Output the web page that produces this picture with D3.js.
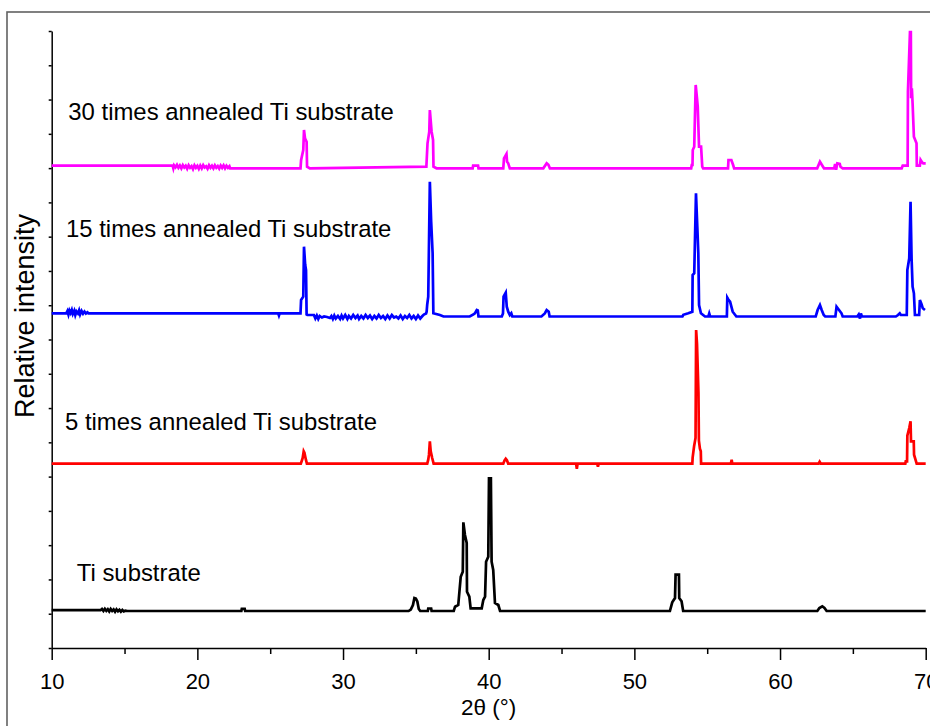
<!DOCTYPE html>
<html>
<head>
<meta charset="utf-8">
<script src="https://cdn.jsdelivr.net/npm/d3@7"></script>
<style>
	body { margin: 0; background: #fff; }
	svg { display: block; font-family: "Liberation Sans", Arial, sans-serif; }
	.series { fill: none; stroke-width: 2.7; stroke-linejoin: miter; }
	.axis path, .axis line { stroke: #000; stroke-width: 1.5; }
</style>
</head>
<body>
<div id="chart"></div>
<script>
// XRD patterns, [2theta, intensity above the trace's own baseline]
let tiSubstrate = [
	[10, 8], [13.35, 8], [13.45, 20], [13.55, 0], [13.65, 22], [13.75, 2], [13.85, 18], [13.95, -5],
	[14.05, 20], [14.15, 0], [14.25, 15], [14.35, -8], [14.45, 16], [14.55, -3], [14.65, 12], [14.75, -6],
	[14.85, 10], [14.95, -4], [15.05, 3], [15.2, 0], [23.02, 0], [23.05, 22], [23.25, 22], [23.28, 0],
	[34.5, 0], [34.65, 15], [34.8, 60], [34.9, 130], [35.0, 125], [35.1, 95], [35.2, 20], [35.3, 0],
	[35.82, 0], [35.85, 25], [36.05, 25], [36.08, 0], [37.6, 0], [37.69, 43], [37.91, 60], [38.08, 343],
	[38.22, 393], [38.26, 887], [38.37, 760], [38.49, 680], [38.51, 193], [38.67, 143], [38.76, 27],
	[39.52, 27], [39.63, 110], [39.75, 143], [39.82, 493], [39.97, 543], [40.02, 1327], [40.15, 1327],
	[40.2, 493], [40.31, 410], [40.43, 80], [40.66, 60], [40.78, 0], [52.44, 0], [52.6, 87], [52.79, 130],
	[52.83, 363], [53.06, 363], [53.08, 130], [53.24, 97], [53.35, 0], [62.56, 0], [62.7, 30], [62.9, 47],
	[63.05, 30], [63.2, 0], [70, 0]
];

let annealed5 = [
	[10, 0], [27.1, 0], [27.17, 30], [27.23, 57], [27.3, 124], [27.35, 110], [27.4, 74], [27.45, 40],
	[27.52, 0], [35.78, 0], [35.85, 40], [35.9, 90], [35.96, 224], [36.02, 124], [36.12, 57], [36.22, 0],
	[41.0, 0], [41.08, 30], [41.17, 50], [41.25, 35], [41.34, 0], [46.0, 0], [46.05, -50], [46.1, 0],
	[47.45, 0], [47.5, -30], [47.55, 0], [53.98, 0], [54.0, 60], [54.1, 174], [54.2, 257], [54.24, 1337],
	[54.3, 1200], [54.4, 707], [54.43, 230], [54.5, 150], [54.56, 124], [54.58, 0], [56.62, 0], [56.68, 40],
	[56.72, 0], [62.65, 0], [62.72, 20], [62.8, 0], [68.6, 0], [68.63, 24], [68.72, 24], [68.74, 280],
	[68.87, 357], [68.96, 424], [68.99, 224], [69.18, 224], [69.2, 90], [69.3, 40], [69.38, 0], [70, 0]
];

let annealed15 = [
	[10, 32], [11.0, 32], [11.08, 55], [11.15, 20], [11.22, 60], [11.3, 35], [11.38, 65], [11.45, 25],
	[11.55, 58], [11.62, 15], [11.7, 50], [11.8, 30], [11.88, 62], [11.95, 20], [12.05, 55], [12.15, 28],
	[12.25, 50], [12.35, 30], [12.45, 42], [12.52, 32], [25.55, 32], [25.6, 10], [25.65, 32], [27.08, 32],
	[27.12, 165], [27.27, 198], [27.32, 698], [27.4, 520], [27.46, 465], [27.5, 20], [27.55, 15],
	[28.0, 15], [28.1, -20], [28.2, 10], [28.3, -25], [28.4, 5], [28.55, -10], [28.7, 0], [28.9, -5],
	[29.1, -15], [29.2, 5], [29.3, -25], [29.4, 10], [29.5, -20], [29.65, 5], [29.8, -25], [29.9, 10],
	[30.0, -20], [30.15, 15], [30.3, -25], [30.4, 5], [30.55, -20], [30.7, 15], [30.85, -15], [31.0, 10],
	[31.1, -25], [31.25, 5], [31.4, -20], [31.55, 15], [31.7, -15], [31.85, 10], [32.0, -25], [32.15, 5],
	[32.3, -20], [32.45, 15], [32.6, -15], [32.75, 5], [32.9, -25], [33.05, 10], [33.2, -20], [33.35, 15],
	[33.5, -10], [33.65, 0], [33.8, -20], [33.95, 10], [34.1, -25], [34.25, 5], [34.4, -15], [34.55, 15],
	[34.7, -20], [34.85, 5], [35.0, -25], [35.15, 10], [35.3, -20], [35.45, 5], [35.55, 20], [35.7, 30],
	[35.74, 48], [35.78, 120], [35.85, 198], [35.96, 1348], [36.05, 950], [36.15, 632], [36.2, 32],
	[36.65, 15], [36.9, 0], [38.7, 0], [38.95, 20], [39.05, 32], [39.18, 65], [39.25, 60], [39.3, 0],
	[40.9, 0], [40.98, 30], [41.02, 198], [41.17, 238], [41.24, 98], [41.34, 48], [41.45, 15], [41.55, 32],
	[41.62, 0], [43.62, 0], [43.85, 30], [43.98, 65], [44.12, 48], [44.18, 0], [53.3, 0], [53.36, 17],
	[53.7, 33], [53.98, 48], [54.0, 415], [54.11, 432], [54.23, 1232], [54.32, 900], [54.39, 632],
	[54.44, 115], [54.57, 32], [54.85, 0], [55.08, 0], [55.14, 30], [55.2, 0], [56.35, 0], [56.38, 188],
	[56.45, 170], [56.57, 148], [56.75, 48], [57.0, 0], [62.45, 0], [62.58, 65], [62.74, 115], [62.86, 65],
	[63.0, 15], [63.1, 0], [63.8, 0], [63.88, 98], [64.05, 65], [64.22, 32], [64.3, 0], [65.3, 0],
	[65.4, 20], [65.49, -20], [65.55, 30], [65.62, 0], [67.95, 0], [68.1, 15], [68.22, 32], [68.3, 15],
	[68.7, 15], [68.74, 465], [68.87, 582], [68.96, 1148], [69.03, 582], [69.1, 298], [69.19, 232],
	[69.26, 15], [69.55, 15], [69.6, 165], [69.72, 120], [69.8, 82], [69.95, 65]
];

let annealed30 = [
	[10, 26], [18.3, 26], [18.35, 0], [18.4, 30], [18.5, 10], [18.6, 35], [18.7, 5], [18.8, 28], [18.9, 0],
	[19.0, 32], [19.1, 8], [19.2, 25], [19.3, -5], [19.4, 30], [19.5, 5], [19.6, 22], [19.7, -8], [19.8, 30],
	[19.9, 5], [20.0, 25], [20.1, -5], [20.2, 28], [20.3, 0], [20.4, 32], [20.5, 8], [20.6, 20], [20.7, -5],
	[20.8, 30], [20.9, 5], [21.0, 25], [21.1, 0], [21.2, 30], [21.3, 5], [21.4, 22], [21.5, -3], [21.6, 28],
	[21.7, 5], [21.8, 30], [21.9, 0], [22.0, 25], [22.1, 5], [22.2, 20], [22.25, 0], [27.08, 0], [27.12, 80],
	[27.17, 116], [27.27, 183], [27.32, 383], [27.39, 300], [27.5, 266], [27.53, 16], [27.72, 0],
	[35.72, 16], [35.8, 250], [35.92, 366], [35.96, 583], [36.08, 366], [36.18, 283], [36.21, 16],
	[36.42, 0], [38.9, 0], [38.93, 26], [39.27, 26], [39.3, 0], [41.0, 0], [41.05, 100], [41.22, 143],
	[41.26, 66], [41.34, 50], [41.45, 0], [43.75, 0], [43.98, 50], [44.1, 35], [44.2, 0], [53.9, 0],
	[53.94, 33], [53.99, 33], [54.01, 183], [54.11, 216], [54.21, 833], [54.3, 700], [54.35, 616],
	[54.44, 216], [54.58, 216], [54.66, 16], [54.72, 0], [56.43, 0], [56.46, 83], [56.66, 83], [56.78, 33],
	[56.85, 0], [62.55, 0], [62.74, 66], [62.95, 16], [63.02, 0], [63.72, 0], [63.78, 44], [63.85, -15],
	[63.93, 50], [64.1, 44], [64.15, 15], [64.3, 0], [68.35, 0], [68.42, 26], [68.76, 26], [68.78, 766],
	[68.92, 1363], [68.98, 1363], [69.0, 700], [69.05, 800], [69.1, 650], [69.19, 316], [69.37, 250],
	[69.39, 26], [69.6, 26], [69.65, 83], [69.75, 60], [69.83, 50], [70, 50]
];

let seriesData = [tiSubstrate, annealed5, annealed15, annealed30];
let seriesNames = ["Ti substrate", "5 times annealed Ti substrate", "15 times annealed Ti substrate", "30 times annealed Ti substrate"];
let seriesOffsets = [370, 1843, 3315, 4797];
let seriesColors = ["#000000", "#ff0000", "#0000ff", "#ff00ff"];

let xMajorTicks = [10, 20, 30, 40, 50, 60, 70];
let xMinorTicks = [15, 25, 35, 45, 55, 65];
let xLabel = "2\u03b8 (\u00b0)";
let yLabel = "Relative intensity";

let width = 930, height = 726;

let svg = d3.select("#chart").append("svg")
	.attr("width", width)
	.attr("height", height);

// figure frame
svg.append("rect")
	.attr("x", 7).attr("y", 12)
	.attr("width", 1000).attr("height", 1000)
	.attr("fill", "none")
	.attr("stroke", "#626262")
	.attr("stroke-width", 1.6);

let x = d3.scaleLinear().domain([10, 70]).range([51.7, 925.7]);
let y = d3.scaleLinear().domain([0, 6170]).range([648, 31]);

// x axis, major + minor
let xAxis = svg.append("g")
	.classed("axis", true)
	.attr("transform", "translate(0," + y(0) + ")")
	.call(d3.axisBottom(x).tickValues(xMajorTicks).tickSize(12).tickSizeOuter(0).tickPadding(13).tickFormat(d3.format("d")));
xAxis.selectAll("text").attr("font-size", 22).attr("fill", "#000");
xAxis.attr("font-family", null);

svg.append("g")
	.classed("axis", true)
	.attr("transform", "translate(0," + y(0) + ")")
	.call(d3.axisBottom(x).tickValues(xMinorTicks).tickSize(6).tickSizeOuter(0).tickFormat(""))
	.select(".domain").remove();

// y axis without labels
let yAxis = svg.append("g")
	.classed("axis", true)
	.attr("transform", "translate(" + x(10) + ",0)")
	.call(d3.axisLeft(y).tickValues(d3.range(19).map(i => i * 6170 / 18)).tickSize(3).tickSizeOuter(0).tickFormat(""));
yAxis.selectAll(".tick line").attr("stroke-width", 1);

svg.append("text")
	.attr("x", x(40))
	.attr("y", 715)
	.attr("text-anchor", "middle")
	.attr("font-size", 22.5)
	.text(xLabel);

svg.append("text")
	.attr("transform", "translate(33.5,316) rotate(-90)")
	.attr("text-anchor", "middle")
	.attr("font-size", 27)
	.text(yLabel);

let line = d3.line()
	.x(d => x(d[0]))
	.y(d => y(d[1]));

seriesData.forEach(function(data, i) {
	svg.append("path")
		.classed("series", true)
		.attr("stroke", seriesColors[i])
		.attr("d", line(data.map(d => [d[0], d[1] + seriesOffsets[i]])));
});

// trace labels, anchored in data space
let labelPos = [[11.72, 667], [10.91, 2183], [10.98, 4107], [11.14, 5280]];
svg.selectAll(".trace-label")
	.data(seriesNames)
	.enter().append("text")
	.classed("trace-label", true)
	.attr("x", (d, i) => x(labelPos[i][0]))
	.attr("y", (d, i) => y(labelPos[i][1]))
	.attr("font-size", 23.9)
	.text(d => d);
</script>
</body>
</html>
